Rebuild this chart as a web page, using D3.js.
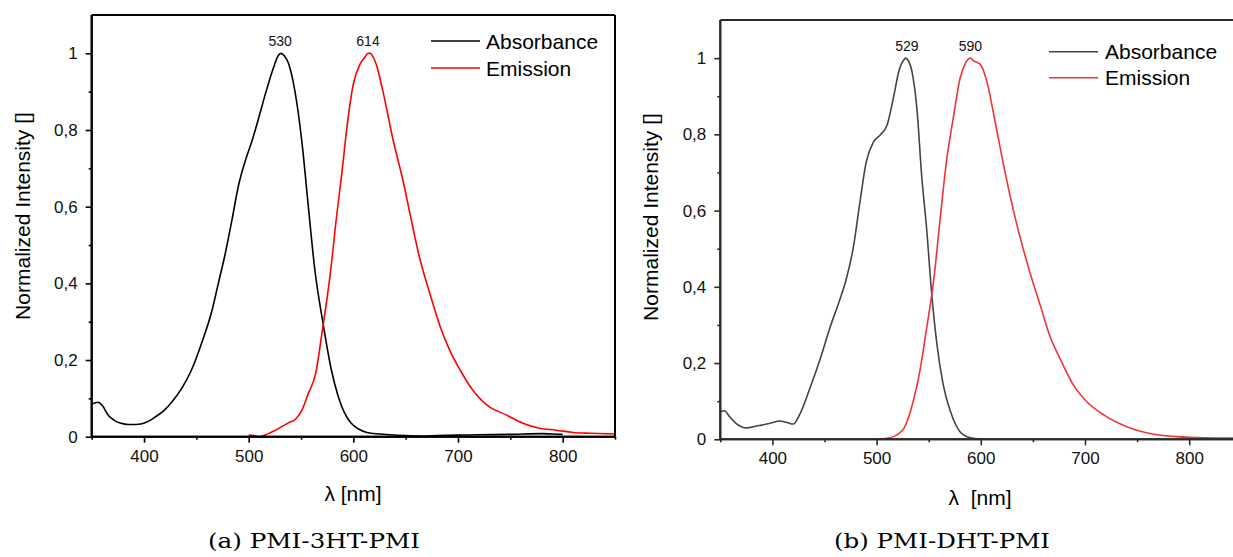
<!DOCTYPE html>
<html>
<head>
<meta charset="utf-8">
<script src="https://cdn.jsdelivr.net/npm/d3@7"></script>
<style>
  html, body { margin: 0; padding: 0; background: #fff; }
  svg { display: block; }
  text { font-family: "Liberation Sans", Arial, sans-serif; }
  text.caption { font-family: "DejaVu Serif", "Liberation Serif", serif; }
</style>
</head>
<body>
<svg id="chart" width="1233" height="557"></svg>
<script>
// ---------- DATA ----------
// Panel (a) PMI-3HT-PMI
const absA_wl  = [350,356,360,366,372,378,385,392,398,404,411,419,427,436,445,455,465,471,477,484,490,498,503,509,517,524,528,531,534,538,544,551,557,563,571,579,585,589,594,598,605,613,625,635,650,665,680,700,720,750,780,790,800];
const absA_val = [.085,.090,.082,.055,.042,.035,.032,.032,.034,.040,.052,.068,.092,.126,.172,.244,.330,.40,.47,.565,.652,.73,.77,.826,.904,.965,.993,1.0,.994,.974,.904,.765,.60,.44,.296,.174,.11,.078,.05,.035,.02,.011,.007,.005,.003,.002,.003,.004,.005,.006,.008,.007,.006];
const emA_wl   = [500,505,510,515,519,525,532,538,545,551,557,564,570,578,584,589,594,600,606,611,614,616,619,622,628,638,648,654,663,673,683,692,702,714,730,746,762,778,794,810,826,850];
const emA_val  = [.004,.003,.0,.004,.008,.016,.027,.036,.046,.07,.113,.165,.27,.426,.575,.687,.81,.92,.97,.99,1.0,1.0,.99,.97,.904,.774,.661,.583,.47,.374,.287,.226,.174,.122,.078,.057,.035,.022,.017,.011,.009,.007];
const peaksA = [{wl: 530, label: "530"}, {wl: 614, label: "614"}];

// Panel (b) PMI-DHT-PMI
const absB_wl  = [350,354,359,366,375,385,398,407,414,420,426,436,446,455,465,471,478,484,490,497,503,510,516,522,526,528,530,534,539,543,548,553,558,564,571,580,590,600];
const absB_val = [.072,.075,.059,.040,.030,.035,.042,.048,.044,.040,.064,.134,.212,.291,.369,.421,.509,.622,.727,.78,.797,.824,.894,.972,.995,1.0,.995,.964,.858,.701,.553,.378,.247,.142,.072,.020,.004,.0];
const emB_wl   = [500,508,516,526,535,542,548,555,561,567,574,580,585,590,593,599,606,612,620,628,638,647,657,666,676,689,702,718,740,762,788,814,850];
const emB_val  = [0,.002,.007,.028,.098,.186,.291,.422,.579,.728,.85,.946,.985,1.0,.993,.985,.937,.858,.745,.64,.527,.439,.352,.273,.212,.142,.098,.064,.033,.015,.007,.004,.003];
const peaksB = [{wl: 529, label: "529"}, {wl: 590, label: "590"}];

const xMajorTicks = [400, 500, 600, 700, 800];
const xMinorTicks = [350, 450, 550, 650, 750, 850];
const yMajorTicks = [0, 0.2, 0.4, 0.6, 0.8, 1.0];
const yMinorTicks = [0.1, 0.3, 0.5, 0.7, 0.9];
const seriesNames = ["Absorbance", "Emission"];
const xTitles = ["λ [nm]", "λ\u00A0 [nm]"];
const yTitle = "Normalized Intensity []";
const captions = ["(a) PMI-3HT-PMI", "(b) PMI-DHT-PMI"];

// ---------- LAYOUT ----------
const svg = d3.select("#chart");
const fmt = v => (v === 0 ? "0" : v === 1 ? "1" : d3.format(".1f")(v).replace(".", ","));

const panels = [
  {
    x0: 91.7, x1: 615, yTop: 15, yBot: 436.7, rightBorder: true,
    axisColor: "#000", absColor: "#000", emColor: "#ff0000",
    abs: absA_wl.map((w, i) => [w, absA_val[i]]),
    em: emA_wl.map((w, i) => [w, emA_val[i]]),
    peaks: peaksA, peakY: 46,
    legend: {x1: 431, x2: 480, tx: 486, y: [41, 68]},
    xTitle: xTitles[0], xTitleX: 353, xTitleY: 501,
    yTitleX: 30, yTitleY: 216,
    caption: captions[0], capX: 208, capY: 548, capW: 212
  },
  {
    x0: 720.3, x1: 1241.3, yTop: 20, yBot: 439.3, rightBorder: false,
    axisColor: "#2a2a2a", absColor: "#444444", emColor: "#ee3535",
    abs: absB_wl.map((w, i) => [w, absB_val[i]]),
    em: emB_wl.map((w, i) => [w, emB_val[i]]),
    peaks: peaksB, peakY: 51,
    legend: {x1: 1049, x2: 1098, tx: 1105, y: [51.7, 77.7]},
    xTitle: xTitles[1], xTitleX: 980, xTitleY: 505,
    yTitleX: 658, yTitleY: 217,
    caption: captions[1], capX: 834, capY: 548, capW: 216
  }
];

panels.forEach(p => {
  const x = d3.scaleLinear().domain([350, 850]).range([p.x0, p.x1]);
  const y = d3.scaleLinear().domain([0, 1.1]).range([p.yBot, p.yTop]);
  const g = svg.append("g");

  // curves
  const line = d3.line().x(d => x(d[0])).y(d => y(d[1])).curve(d3.curveMonotoneX);
  g.append("path").datum(p.abs).attr("d", line)
    .attr("fill", "none").attr("stroke", p.absColor).attr("stroke-width", 1.6);
  g.append("path").datum(p.em).attr("d", line)
    .attr("fill", "none").attr("stroke", p.emColor).attr("stroke-width", 1.6);

  // x axis (major + minor)
  const xAx = g.append("g").attr("transform", `translate(0,${p.yBot})`)
    .call(d3.axisBottom(x).tickValues(xMajorTicks).tickSize(6).tickPadding(7).tickFormat(d3.format("d")));
  const xMin = g.append("g").attr("transform", `translate(0,${p.yBot})`)
    .call(d3.axisBottom(x).tickValues(xMinorTicks).tickSize(3).tickFormat(""));
  // y axis
  const yAx = g.append("g").attr("transform", `translate(${p.x0},0)`)
    .call(d3.axisLeft(y).tickValues(yMajorTicks).tickSize(6).tickPadding(8).tickFormat(fmt));
  const yMin = g.append("g").attr("transform", `translate(${p.x0},0)`)
    .call(d3.axisLeft(y).tickValues(yMinorTicks).tickSize(3).tickFormat(""));

  [xAx, xMin, yAx, yMin].forEach(a => {
    a.select(".domain").attr("stroke", p.axisColor).attr("stroke-width", 2);
    a.selectAll(".tick line").attr("stroke", p.axisColor).attr("stroke-width", 1.6);
    a.selectAll(".tick text").attr("font-size", 17).attr("fill", "#111");
  });
  xAx.selectAll(".domain").attr("d", `M${p.x0},0H${p.x1}`);
  xMin.selectAll(".domain").attr("d", `M${p.x0},0H${p.x1}`);
  yAx.selectAll(".domain").attr("d", `M0,${p.yBot}V${p.yTop}`);
  yMin.selectAll(".domain").attr("d", `M0,${p.yBot}V${p.yTop}`);

  // frame top / right
  g.append("line").attr("x1", p.x0).attr("x2", p.x1).attr("y1", p.yTop).attr("y2", p.yTop)
    .attr("stroke", p.axisColor).attr("stroke-width", 2);
  if (p.rightBorder) {
    g.append("line").attr("x1", p.x1).attr("x2", p.x1).attr("y1", p.yTop).attr("y2", p.yBot)
      .attr("stroke", p.axisColor).attr("stroke-width", 2);
  }

  // peak labels
  g.selectAll(".peak").data(p.peaks).enter().append("text")
    .attr("x", d => x(d.wl)).attr("y", p.peakY)
    .attr("text-anchor", "middle").attr("font-size", 14).attr("fill", "#111")
    .text(d => d.label);

  // legend
  const lcolors = [p.absColor, p.emColor];
  seriesNames.forEach((name, i) => {
    g.append("line").attr("x1", p.legend.x1).attr("x2", p.legend.x2)
      .attr("y1", p.legend.y[i]).attr("y2", p.legend.y[i])
      .attr("stroke", lcolors[i]).attr("stroke-width", 1.6);
    g.append("text").attr("x", p.legend.tx).attr("y", p.legend.y[i] + 7.5)
      .attr("font-size", 21).attr("fill", "#000").text(name);
  });

  // axis titles
  g.append("text").attr("x", p.xTitleX).attr("y", p.xTitleY)
    .attr("text-anchor", "middle").attr("font-size", 21).attr("fill", "#000").text(p.xTitle);
  g.append("text").attr("transform", `translate(${p.yTitleX},${p.yTitleY}) rotate(-90)`)
    .attr("text-anchor", "middle").attr("font-size", 21).attr("fill", "#000").text(yTitle);

  // caption
  g.append("text").attr("class", "caption").attr("x", p.capX).attr("y", p.capY)
    .attr("font-size", 21).attr("fill", "#000")
    .attr("textLength", p.capW).attr("lengthAdjust", "spacingAndGlyphs")
    .text(p.caption);
});
</script>
</body>
</html>
